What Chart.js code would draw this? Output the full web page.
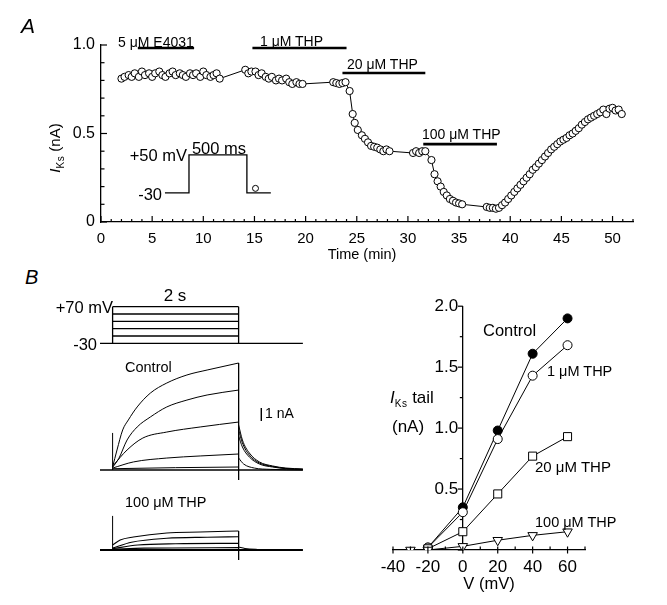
<!DOCTYPE html>
<html>
<head>
<meta charset="utf-8">
<script src="https://cdn.jsdelivr.net/npm/chart.js@4.4.1/dist/chart.umd.min.js"></script>
<style>
  body { margin: 0; background: #fff; }
  #fig { position: relative; width: 667px; height: 605px; overflow: hidden;
         font-family: 'Liberation Sans', Arial, Helvetica, sans-serif; color: #000; }
  canvas { position: absolute; }
  .t { position: absolute; white-space: nowrap; line-height: 1; }
  .l { transform: translate(0, -50%); }
  .c { transform: translate(-50%, -50%); }
  .r { transform: translate(-100%, -50%); }
  .sub { font-size: 10px; position: relative; top: 4px; letter-spacing: 0.5px; }
</style>
</head>
<body>
<div id="fig">
  <canvas id="chartA" width="667" height="260" style="left:0;top:0"></canvas>
  <canvas id="protB" width="210" height="50" style="left:100px;top:300px"></canvas>
  <canvas id="ctrlB" width="210" height="135" style="left:100px;top:355px"></canvas>
  <canvas id="thpB" width="210" height="65" style="left:100px;top:505px"></canvas>
  <canvas id="ivB" width="337" height="315" style="left:330px;top:290px"></canvas>

  <!-- panel A text -->
  <div class="t l" style="left:21px;top:25px;font-size:21px;font-style:italic">A</div>
  <div class="t l" style="left:118px;top:42px;font-size:14px">5 μM E4031</div>
  <div class="t l" style="left:260px;top:41px;font-size:14px">1 μM THP</div>
  <div class="t l" style="left:347px;top:64px;font-size:14px">20 μM THP</div>
  <div class="t l" style="left:422px;top:134px;font-size:14px">100 μM THP</div>
  <div class="t r" style="left:187px;top:155px;font-size:16.5px">+50 mV</div>
  <div class="t c" style="left:219px;top:148px;font-size:16.5px">500 ms</div>
  <div class="t r" style="left:162px;top:194px;font-size:16.5px">-30</div>
  <div class="t c" style="left:54px;top:148px;font-size:15px;transform:translate(-50%,-50%) rotate(-90deg)"><i>I</i><span class="sub">Ks</span> (nA)</div>
  <div class="t c" style="left:362px;top:254px;font-size:14.5px">Time (min)</div>

  <!-- panel B text -->
  <div class="t l" style="left:25px;top:277px;font-size:20px;font-style:italic">B</div>
  <div class="t r" style="left:113px;top:307px;font-size:16.5px">+70 mV</div>
  <div class="t r" style="left:97px;top:344px;font-size:16.5px">-30</div>
  <div class="t c" style="left:175px;top:295px;font-size:17px">2 s</div>
  <div class="t l" style="left:125px;top:367px;font-size:14.5px">Control</div>
  <div class="t l" style="left:265px;top:413px;font-size:14px">1 nA</div>
  <div class="t l" style="left:125px;top:502px;font-size:14.5px">100 μM THP</div>
  <div class="t l" style="left:483px;top:330px;font-size:16.5px">Control</div>
  <div class="t l" style="left:547px;top:371px;font-size:14.5px">1 μM THP</div>
  <div class="t l" style="left:535px;top:466px;font-size:15px">20 μM THP</div>
  <div class="t l" style="left:535px;top:522px;font-size:14.5px">100 μM THP</div>
  <div class="t l" style="left:390px;top:397px;font-size:17px"><i>I</i><span class="sub">Ks</span> tail</div>
  <div class="t l" style="left:392px;top:426px;font-size:17px">(nA)</div>
  <div class="t c" style="left:489px;top:583px;font-size:16.5px">V (mV)</div>
</div>

<script>
// ---- panel A: IKs time course ----
const timeMin = [
  2.0, 2.3, 2.7, 3.0, 3.3, 3.7, 4.0, 4.3, 4.7, 5.0, 5.3, 5.7, 6.0, 6.3, 6.7,
  7.0, 7.3, 7.7, 8.0, 8.3, 8.7, 9.0, 9.3, 9.7, 10.0, 10.3, 10.7, 11.0, 11.3, 11.6,
  14.1, 14.4, 14.7, 15.1, 15.4, 15.7, 16.1, 16.4, 16.7, 17.1, 17.4, 17.7, 18.1, 18.4, 18.7, 19.1, 19.4, 19.7,
  22.7, 23.0, 23.3, 23.6, 23.9,
  24.3, 24.6, 24.8, 25.1, 25.5, 25.8, 26.1, 26.4, 26.7, 27.0, 27.3, 27.6, 27.9, 28.2,
  30.5, 30.8, 31.1, 31.4, 31.7,
  32.3, 32.6, 32.9, 33.2, 33.5, 33.8, 34.1, 34.4, 34.7, 35.0, 35.3,
  37.7, 38.0, 38.3, 38.6, 38.9,
  39.2, 39.5, 39.8, 40.1, 40.4, 40.7, 41.0, 41.3, 41.6, 41.9, 42.2, 42.5, 42.8, 43.1, 43.4,
  43.7, 44.0, 44.3, 44.6, 44.9, 45.2, 45.5, 45.8, 46.1, 46.4, 46.7, 47.0, 47.3, 47.6, 47.9,
  48.2, 48.5, 48.8, 49.1, 49.4, 49.7, 50.0, 50.3, 50.6, 50.9
];
const iksNA = [
  0.81, 0.82, 0.83, 0.82, 0.84, 0.82, 0.85, 0.83, 0.84, 0.82, 0.84, 0.85, 0.83, 0.82, 0.84,
  0.85, 0.83, 0.84, 0.83, 0.82, 0.84, 0.83, 0.84, 0.82, 0.85, 0.83, 0.82, 0.83, 0.84, 0.81,
  0.86, 0.84, 0.85, 0.85, 0.83, 0.84, 0.82, 0.81, 0.82, 0.80, 0.81, 0.80, 0.81, 0.79, 0.78, 0.79, 0.78, 0.78,
  0.79, 0.785, 0.78, 0.785, 0.79,
  0.74, 0.61, 0.56, 0.52, 0.49, 0.47, 0.45, 0.43, 0.425, 0.42, 0.41, 0.40, 0.41, 0.40,
  0.39, 0.40, 0.39, 0.40, 0.40,
  0.35, 0.27, 0.23, 0.20, 0.17, 0.15, 0.13, 0.12, 0.11, 0.105, 0.10,
  0.085, 0.08, 0.08, 0.075, 0.08,
  0.095, 0.11, 0.13, 0.15, 0.17, 0.19, 0.21, 0.23, 0.25, 0.27, 0.295, 0.31, 0.33, 0.35, 0.37,
  0.39, 0.41, 0.425, 0.44, 0.455, 0.465, 0.475, 0.49, 0.50, 0.515, 0.53, 0.55, 0.565, 0.58, 0.59,
  0.60, 0.61, 0.62, 0.635, 0.61, 0.64, 0.645, 0.63, 0.635, 0.61
];
// drug application periods (min)
const drugStart = [3.6, 14.8, 23.6, 31.5];
const drugEnd   = [9.1, 24.0, 31.7, 38.7];
// inset pulse protocol (schematic, in axis units)
const pulseT = [6.25, 8.6, 8.6, 14.26, 14.26, 16.6];
const pulseV = [0.164, 0.164, 0.379, 0.379, 0.164, 0.164];
const tailMark = { x: 15.1, y: 0.19 };

// ---- panel B left: voltage protocol (mV) and current traces (nA vs s) ----
const holdMV = -30;
const stepMV = [-10, 10, 30, 50, 70];
const stepDur = 2;

const ctrlTraces = [
  { t: [0, 0.07, 0.16, 0.25, 0.39, 0.6, 0.86, 1.18, 1.5, 2.0], i: [0.23, 1.54, 3.08, 3.85, 4.85, 5.92, 6.69, 7.31, 7.69, 8.23] },
  { t: [0, 0.1, 0.23, 0.39, 0.6, 0.86, 1.18, 1.5, 2.0], i: [0.2, 0.9, 2.31, 3.31, 4.08, 4.85, 5.38, 5.77, 6.15] },
  { t: [0, 0.23, 0.48, 0.86, 1.39, 2.0], i: [0.3, 1.54, 2.46, 2.92, 3.31, 3.69] },
  { t: [0, 0.33, 0.86, 1.39, 2.0], i: [0.15, 0.62, 0.92, 1.08, 1.23] },
  { t: [0, 1.0, 2.0], i: [0.1, 0.18, 0.23] }
];
const ctrlTails = [
  { t: [2.0, 2.06, 2.17, 2.33, 2.54, 2.75, 3.02], i: [3.46, 2.31, 1.31, 0.62, 0.31, 0.15, 0.08] },
  { t: [2.0, 2.06, 2.17, 2.33, 2.54, 2.75, 3.02], i: [3.08, 2.08, 1.15, 0.54, 0.27, 0.12, 0.05] },
  { t: [2.0, 2.06, 2.17, 2.33, 2.54, 2.75, 3.02], i: [2.62, 1.77, 1.0, 0.46, 0.23, 0.1, 0.04] },
  { t: [2.0, 2.08, 2.25, 2.5, 3.02], i: [0.92, 0.46, 0.15, 0.05, 0] }
];
const thpTraces = [
  { t: [0, 0.12, 0.33, 0.86, 1.39, 2.0], i: [0.38, 0.77, 1.0, 1.31, 1.38, 1.46] },
  { t: [0, 0.3, 0.86, 1.5, 2.0], i: [0.15, 0.6, 0.9, 0.98, 1.02] },
  { t: [0, 0.4, 1.0, 2.0], i: [0.1, 0.38, 0.48, 0.51] },
  { t: [0, 0.5, 2.0], i: [0.05, 0.14, 0.18] }
];
const thpTails = [
  { t: [2.0, 2.1, 2.3, 2.6, 3.02], i: [0.23, 0.12, 0.04, 0, 0] }
];

// ---- panel B right: tail current I-V ----
const voltages = [-30, -20, 0, 20, 40, 60];
const ivControl = [null, 0.02, 0.35, 0.98, 1.61, 1.90];
const ivThp1    = [null, 0.02, 0.31, 0.91, 1.43, 1.68];
const ivThp20   = [null, 0.01, 0.15, 0.46, 0.77, 0.93];
const ivThp100  = [0, 0, 0.03, 0.08, 0.12, 0.15];

Chart.defaults.font.family = "'Liberation Sans', Arial, Helvetica, sans-serif";
Chart.defaults.color = '#000';

// tick marks drawn inward / outward at the axis line
const tickMarks = {
  id: 'tickMarks',
  afterDatasetsDraw(chart, args, opts) {
    const ctx = chart.ctx;
    ctx.save();
    ctx.strokeStyle = '#000';
    ctx.lineWidth = 1.2;
    (opts.axes || []).forEach(a => {
      const s = chart.scales[a.id];
      const other = chart.scales[a.id === 'x' ? 'y' : 'x'];
      const base = other.getPixelForValue(a.at);
      s.ticks.forEach(tk => {
        const q = tk.value / a.major;
        const major = Math.abs(q - Math.round(q)) < 1e-6;
        const inn = major ? a.inner[0] : a.inner[1];
        const out = major ? a.outer[0] : a.outer[1];
        const p = s.getPixelForValue(tk.value);
        ctx.beginPath();
        if (a.id === 'x') { ctx.moveTo(p, base + out); ctx.lineTo(p, base - inn); }
        else { ctx.moveTo(base - out, p); ctx.lineTo(base + inn, p); }
        ctx.stroke();
      });
    });
    ctx.restore();
  }
};

const pts = (xs, ys) => xs.map((x, k) => ({ x: x, y: ys[k] })).filter(p => p.y !== null);
const seg = (x0, y0, x1, y1) => [{ x: x0, y: y0 }, { x: x1, y: y1 }];
const lineDs = (data, w, smooth) => ({
  data: data, showLine: true, borderColor: '#000', borderWidth: w || 1,
  pointRadius: 0, tension: 0, cubicInterpolationMode: smooth ? 'monotone' : 'default'
});

// ---- chart A ----
const barLevels = [0.983, 0.983, 0.842, 0.44];
const aSets = [
  {
    data: pts(timeMin, iksNA), showLine: true, borderColor: '#000', borderWidth: 1,
    pointRadius: 3.6, pointBackgroundColor: '#fff', pointBorderColor: '#000', pointBorderWidth: 1
  },
  lineDs(pts(pulseT, pulseV), 1.3)
];
drugStart.forEach((s, k) => aSets.push(lineDs(seg(s, barLevels[k], drugEnd[k], barLevels[k]), 2.6)));
aSets.push({ data: [tailMark], pointRadius: 3, pointBackgroundColor: '#fff', pointBorderColor: '#000', pointBorderWidth: 1 });

new Chart(document.getElementById('chartA'), {
  type: 'scatter',
  data: { datasets: aSets },
  options: {
    responsive: false, animation: false, devicePixelRatio: 1,
    layout: { padding: { left: 60, top: 45, right: 34, bottom: 0 } },
    plugins: {
      legend: { display: false }, tooltip: { enabled: false },
      tickMarks: { axes: [
        { id: 'x', at: 0, major: 5, inner: [6, 3], outer: [0, 0] },
        { id: 'y', at: 0, major: 0.5, inner: [6, 3.5], outer: [0, 0] }
      ] }
    },
    scales: {
      x: {
        type: 'linear', min: 0, max: 52,
        grid: { display: false, drawTicks: false },
        border: { display: true, color: '#000', width: 1.3 },
        ticks: { stepSize: 1, autoSkip: false, maxRotation: 0, padding: 8, font: { size: 15 },
          callback: v => (v % 5 === 0 && v <= 50) ? String(v) : '' },
        afterFit: s => { s.height = 38; }
      },
      y: {
        type: 'linear', min: 0, max: 1,
        grid: { display: false, drawTicks: false },
        border: { display: true, color: '#000', width: 1.3 },
        ticks: { stepSize: 0.1, autoSkip: false, padding: 6, font: { size: 16 },
          callback: v => {
            if (Math.abs(v) < 1e-6) return '0';
            if (Math.abs(v - 0.5) < 1e-6) return '0.5';
            if (Math.abs(v - 1) < 1e-6) return '1.0';
            return '';
          } },
        afterFit: s => { s.width = 41; }
      }
    }
  },
  plugins: [tickMarks]
});

// ---- chart B left helpers ----
function traceChart(id, yMin, yMax, datasets) {
  return new Chart(document.getElementById(id), {
    type: 'scatter',
    data: { datasets: datasets },
    options: {
      responsive: false, animation: false, devicePixelRatio: 1,
      layout: { padding: 0 },
      plugins: { legend: { display: false }, tooltip: { enabled: false } },
      scales: {
        x: { type: 'linear', display: false, min: -0.2, max: 3.133 },
        y: { type: 'linear', display: false, min: yMin, max: yMax }
      }
    }
  });
}

const protSets = [lineDs(seg(-0.2, holdMV, 3.02, holdMV), 1.3),
  lineDs(seg(0, holdMV, 0, Math.max(...stepMV)), 1.3),
  lineDs(seg(stepDur, holdMV, stepDur, Math.max(...stepMV)), 1.3)];
stepMV.forEach(v => protSets.push(lineDs(seg(0, v, stepDur, v), 1.3)));
traceChart('protB', -48.3, 88.3, protSets);

const ctrlSets = [lineDs(seg(-0.2, 0, 3.02, 0), 1.6),
  lineDs(seg(0, 0, 0, 2.85), 1),
  lineDs(seg(stepDur, 8.23, stepDur, -0.77), 1),
  lineDs(seg(2.36, 3.77, 2.36, 4.77), 1.4)];
ctrlTraces.concat(ctrlTails).forEach(tr => ctrlSets.push(lineDs(pts(tr.t, tr.i), 1, true)));
traceChart('ctrlB', -1.538, 8.846, ctrlSets);

const thpSets = [lineDs(seg(-0.2, 0, 3.02, 0), 1.8),
  lineDs(seg(0, 0, 0, 2.62), 1),
  lineDs(seg(stepDur, 1.46, stepDur, -0.77), 1)];
thpTraces.concat(thpTails).forEach(tr => thpSets.push(lineDs(pts(tr.t, tr.i), 1.1, true)));
traceChart('thpB', -1.54, 3.46, thpSets);

// ---- chart B right: I-V ----
const ivDs = (ys, style, fill, r, rot) => ({
  data: pts(voltages, ys), showLine: true, borderColor: '#000', borderWidth: 1,
  pointStyle: style, pointRadius: r, pointRotation: rot || 0,
  pointBackgroundColor: fill, pointBorderColor: '#000', pointBorderWidth: 1
});
new Chart(document.getElementById('ivB'), {
  type: 'scatter',
  data: { datasets: [
    ivDs(ivThp100, 'triangle', '#fff', 5.5, 180),
    ivDs(ivThp20, 'rect', '#fff', 5.7),
    ivDs(ivThp1, 'circle', '#fff', 4.5),
    ivDs(ivControl, 'circle', '#000', 4.5)
  ] },
  options: {
    responsive: false, animation: false, devicePixelRatio: 1,
    layout: { padding: { left: 63, right: 82, top: 13, bottom: 55 } },
    plugins: {
      legend: { display: false }, tooltip: { enabled: false },
      tickMarks: { axes: [
        { id: 'x', at: 0, major: 20, inner: [3.5, 3.5], outer: [3.5, 0] },
        { id: 'y', at: 0, major: 0.5, inner: [0, 0], outer: [5, 3] }
      ] }
    },
    scales: {
      x: {
        type: 'linear', min: -40, max: 70, position: { y: 0 },
        grid: { display: false, drawTicks: false },
        border: { display: true, color: '#000', width: 1.3 },
        ticks: { stepSize: 10, autoSkip: false, maxRotation: 0, padding: 7, font: { size: 17 },
          callback: v => (v % 20 === 0 && v <= 60) ? String(v) : '' }
      },
      y: {
        type: 'linear', min: 0, max: 2, position: { x: 0 },
        grid: { display: false, drawTicks: false },
        border: { display: true, color: '#000', width: 1.3 },
        // labels sit flush on a centred axis, so a trailing space keeps them clear of the tick marks
        ticks: { stepSize: 0.25, autoSkip: false, padding: 6, font: { size: 17 },
          callback: v => (v > 0.01 && Math.abs(v * 2 - Math.round(v * 2)) < 1e-6) ? v.toFixed(1) + ' ' : '' }
      }
    }
  },
  plugins: [tickMarks]
});
</script>
</body>
</html>
